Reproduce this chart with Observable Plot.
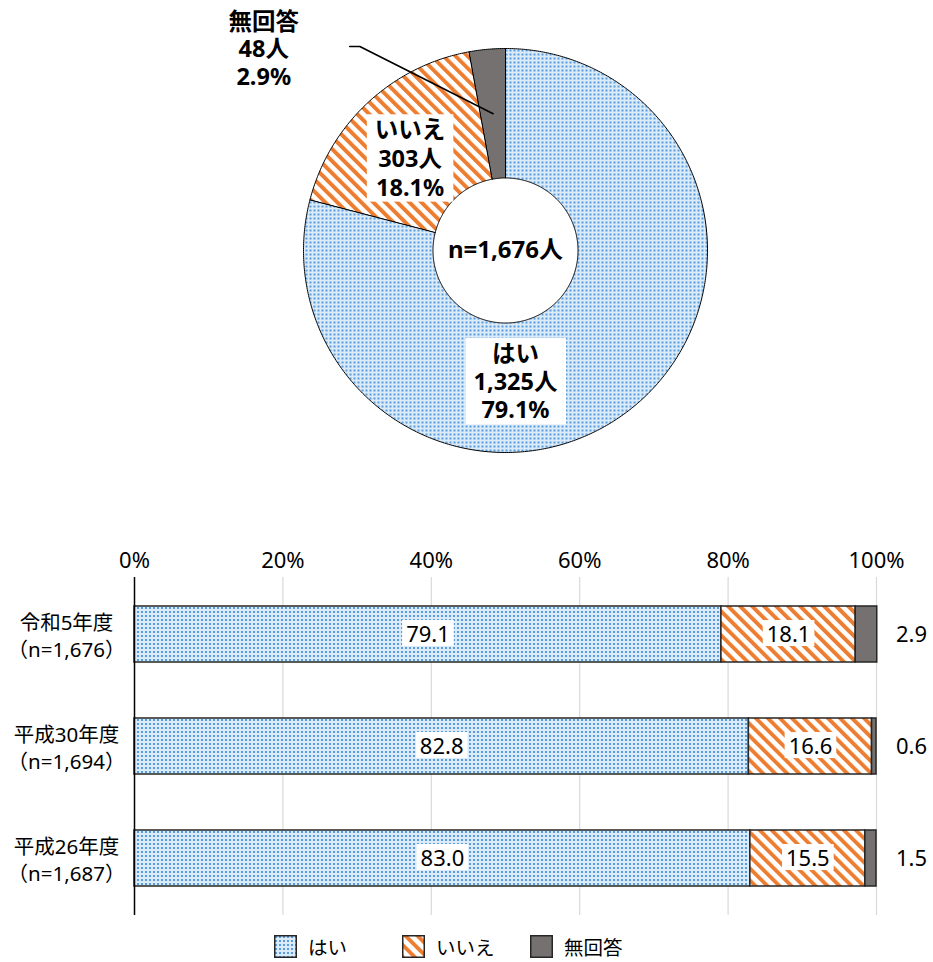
<!DOCTYPE html>
<html><head><meta charset="utf-8">
<script src="https://cdn.jsdelivr.net/npm/d3@7"></script>
<script src="https://cdn.jsdelivr.net/npm/@observablehq/plot@0.6"></script>
<style>
body{margin:0;background:#fff;font-family:"Noto Sans","Noto Sans CJK JP",sans-serif;}
#root{position:relative;width:933px;height:962px;overflow:hidden}
#root svg.plot{position:absolute;left:0}
.legend{position:absolute;top:932px;left:0;width:933px;height:28px;font-size:19.5px;color:#000}
.legend .item{position:absolute;top:0;display:flex;align-items:center;height:28px}
.legend .item svg{margin-right:11px}
</style></head><body>
<svg width="0" height="0" style="position:absolute">
<defs>
<pattern id="dots" width="4" height="4" patternUnits="userSpaceOnUse">
<rect width="4" height="4" fill="#dcebf8"/>
<circle cx="2" cy="2" r="1.1" fill="#3a8ad6"/>
</pattern>
<pattern id="stripes" width="8.5" height="8.5" patternUnits="userSpaceOnUse" patternTransform="rotate(-45)">
<rect width="8.5" height="8.5" fill="#fff"/>
<rect width="3.9" height="8.5" fill="#ed7d31"/>
</pattern>
</defs></svg>
<div id="root"></div>
<script>
// ---- data ----
const categories = ["はい", "いいえ", "無回答"];
const donutCounts = [1325, 303, 48];
const donutPercents = [79.1, 18.1, 2.9];
const donutTotalLabel = "1,676";
const surveyYears = ["令和5年度", "平成30年度", "平成26年度"];
const surveyN = ["1,676", "1,694", "1,687"];
const haiValues = [79.1, 82.8, 83.0];
const iieValues = [18.1, 16.6, 15.5];
const mukaitouValues = [2.9, 0.6, 1.5];
const xTickValues = [0, 20, 40, 60, 80, 100];

// ---- styles ----
const fills = ["url(#dots)", "url(#stripes)", "#767171"];
const FONT = '"Noto Sans", "Noto Sans CJK JP", sans-serif';
const root = document.getElementById("root");

// ---- donut ----
const innerR = 0.359, outerR = 1, labelR = 0.68;
const total = d3.sum(donutCounts);
const pt = (a, r) => [r * Math.sin(a), r * Math.cos(a)];
let acc = 0;
const slices = categories.map((cat, i) => {
  const a0 = acc / total * 2 * Math.PI;
  acc += donutCounts[i];
  const a1 = acc / total * 2 * Math.PI;
  const n = Math.max(4, Math.ceil((a1 - a0) / 0.01));
  const ring = [];
  for (let k = 0; k <= n; k++) ring.push(pt(a0 + (a1 - a0) * k / n, outerR));
  for (let k = n; k >= 0; k--) ring.push(pt(a0 + (a1 - a0) * k / n, innerR));
  ring.push(ring[0]);
  const mid = (a0 + a1) / 2;
  return {
    type: "Feature",
    properties: {cat, count: donutCounts[i], pct: donutPercents[i], mid},
    geometry: {type: "Polygon", coordinates: [ring]}
  };
});
const labelOf = p => `${p.cat}\n${p.count.toLocaleString("en-US")}人\n${p.pct.toFixed(1)}%`;
const sliceLabels = slices.map(s => {
  const [x, y] = pt(s.properties.mid, labelR);
  return {...s.properties, x, y, text: labelOf(s.properties)};
});
const mk = sliceLabels[2];
const leader = [[mk.x, mk.y], [mk.x - 0.66, 1.01], [mk.x - 0.71, 1.01]];

// projection extent (unit = outer radius)
const ext = {x0: -1.3, x1: 1, y0: -1, y1: 1.2376};
const donut = Plot.plot({
  width: 933, height: 530,
  marginLeft: 242.4, marginRight: 226, marginTop: 0, marginBottom: 78,
  style: {fontFamily: FONT, background: "transparent"},
  projection: {type: "reflect-y", domain: {type: "Polygon", coordinates: [[[ext.x0, ext.y0], [ext.x1, ext.y0], [ext.x1, ext.y1], [ext.x0, ext.y1], [ext.x0, ext.y0]]]}},
  color: {domain: categories, range: fills},
  marks: [
    Plot.geo(slices, {fill: d => d.properties.cat, stroke: "#000", strokeWidth: 1}),
    Plot.line(leader, {x: d => d[0], y: d => d[1], stroke: "#000", strokeWidth: 1.6}),
    Plot.text([`n=${donutTotalLabel}人`], {x: () => 0, y: () => 0, text: d => d, fontSize: 24, fontWeight: "bold", fill: "#000"}),
    Plot.text([sliceLabels[0]], {x: "x", y: "y", text: "text", dx: -74, dy: 22, fontSize: 23.5, fontWeight: "bold", lineHeight: 1.2, fill: "#000", className: "boxed-donut"}),
    Plot.text([sliceLabels[1]], {x: "x", y: "y", text: "text", dx: -2, dy: 8, fontSize: 23.5, fontWeight: "bold", lineHeight: 1.22, fill: "#000", className: "boxed-donut"}),
    Plot.text([{x: leader[2][0], y: leader[2][1], text: labelOf(mk)}], {x: "x", y: "y", text: "text", dx: -86, dy: 2, fontSize: 23.5, fontWeight: "bold", lineHeight: 1.18, fill: "#000"})
  ]
});
donut.style.top = "0px";
root.appendChild(donut);

// ---- stacked bars ----
const seriesValues = [haiValues, iieValues, mukaitouValues];
const barData = surveyYears.flatMap((yr, i) => categories.map((cat, j) => ({year: yr, cat, value: seriesValues[j][i]})));

const bars = Plot.plot({
  width: 933, height: 400,
  marginLeft: 134, marginRight: 57, marginTop: 47, marginBottom: 15,
  style: {fontFamily: FONT, background: "transparent"},
  x: {domain: [0, 100]},
  y: {domain: surveyYears, paddingInner: 0.5, paddingOuter: 0.25},
  color: {domain: categories, range: fills},
  marks: [
    Plot.gridX(xTickValues.filter(v => v > 0), {stroke: "#d9d9d9", strokeOpacity: 1, strokeWidth: 1.2}),
    Plot.axisX({anchor: "top", ticks: xTickValues, tickFormat: d => d + "%", tickSize: 0, tickPadding: 10, fontSize: 22, label: null, fill: "#000"}),
    Plot.axisY({tickSize: 0, tickPadding: 68, textAnchor: "middle", fontSize: 20.5, lineHeight: 1.32, label: null, fill: "#000",
      tickFormat: d => `${d}\n（n=${surveyN[surveyYears.indexOf(d)]}）`}),
    Plot.barX(barData, {x: "value", y: "year", fill: "cat", stroke: "#262626", strokeWidth: 1.5}),
    Plot.ruleX([0], {stroke: "#000", strokeWidth: 1.5}),
    Plot.text(barData, Plot.stackX({x: "value", y: "year", text: d => d.cat === "無回答" ? null : d.value.toFixed(1), fontSize: 22, fill: "#000", className: "boxed-bar"})),
    Plot.text(barData.filter(d => d.cat === "無回答"), {x: () => 100, y: "year", dx: 35, text: d => d.value.toFixed(1), fontSize: 22, fill: "#000"})
  ]
});
bars.style.top = "530px";
root.appendChild(bars);

// white boxes behind labels
function box(svg, sel, padX, padTop, padBottom) {
  svg.querySelectorAll(sel + " text").forEach(t => {
    if (!t.textContent) return;
    const b = t.getBBox();
    const r = document.createElementNS("http://www.w3.org/2000/svg", "rect");
    r.setAttribute("x", b.x - padX);
    r.setAttribute("y", b.y - padTop);
    r.setAttribute("width", b.width + 2 * padX);
    r.setAttribute("height", b.height + padTop + padBottom);
    r.setAttribute("fill", "#fff");
    if (t.getAttribute("transform")) r.setAttribute("transform", t.getAttribute("transform"));
    t.parentNode.insertBefore(r, t);
  });
}
box(donut, ".boxed-donut", 8, -1, -1);
box(bars, ".boxed-bar", 4, -2.5, -1.5);

// legend
const legend = document.createElement("div");
legend.className = "legend";
const legendLeft = [274, 402, 530];
categories.forEach((c, i) => {
  const it = document.createElement("div");
  it.className = "item";
  it.style.left = legendLeft[i] + "px";
  it.innerHTML = `<svg width="23" height="23"><rect x="0.75" y="0.75" width="21.5" height="21.5" fill="${fills[i]}" stroke="#262626" stroke-width="1.5"/></svg><span>${c}</span>`;
  legend.appendChild(it);
});
root.appendChild(legend);
</script>
</body></html>
